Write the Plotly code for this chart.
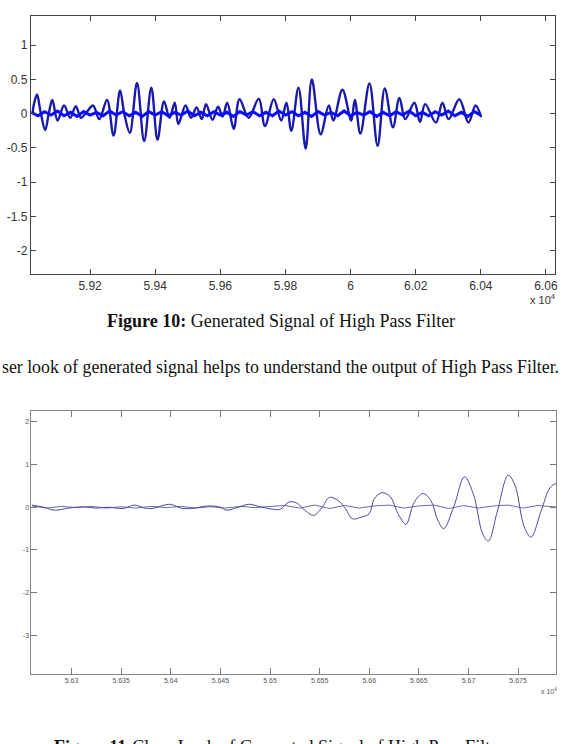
import plotly.graph_objects as go

W, H = 567, 744

# ---------------- Data: Figure 10 (top) ----------------
top_sig_x = [59023, 59028, 59037, 59047, 59062, 59073, 59084, 59100, 59120, 59139,
             59156, 59172, 59189, 59209, 59228, 59252, 59272, 59292, 59305, 59322,
             59344, 59366, 59388, 59407, 59427, 59444, 59460, 59471, 59493, 59510,
             59527, 59543, 59556, 59576, 59593, 59607, 59621, 59641, 59659, 59687,
             59718, 59737, 59764, 59787, 59803, 59818, 59840, 59862, 59881, 59908,
             59933, 59947, 59975, 60002, 60013, 60030, 60058, 60083, 60105, 60130,
             60150, 60168, 60196, 60213, 60229, 60262, 60282, 60301, 60334, 60362,
             60384, 60401]
top_sig_y = [0.0, 0.15, 0.28, 0.05, -0.24, 0.0, 0.2, -0.1, 0.12, -0.06,
             0.11, -0.06, 0.02, 0.12, -0.08, 0.2, -0.32, 0.34, 0.0, -0.28,
             0.45, -0.4, 0.38, -0.38, 0.18, -0.06, 0.16, -0.15, 0.12, -0.06,
             0.09, -0.08, 0.14, -0.09, 0.1, -0.04, 0.16, -0.22, 0.21, -0.06,
             0.22, -0.18, 0.21, -0.1, 0.16, -0.25, 0.38, -0.51, 0.5, -0.3,
             0.12, -0.1, 0.35, -0.1, 0.2, -0.29, 0.44, -0.47, 0.37, -0.2,
             0.23, -0.08, 0.16, -0.12, 0.14, -0.13, 0.16, -0.08, 0.21, -0.13,
             0.12, -0.05]

top_flat_x = [59020, 59040, 59060, 59080, 59100, 59120, 59140, 59160, 59180, 59200,
              59220, 59240, 59260, 59280, 59300, 59320, 59340, 59360, 59380, 59400,
              59420, 59440, 59460, 59480, 59500, 59520, 59540, 59560, 59580, 59600,
              59620, 59640, 59660, 59680, 59700, 59720, 59740, 59760, 59780, 59800,
              59820, 59840, 59860, 59880, 59900, 59920, 59940, 59960, 59980, 60000,
              60020, 60040, 60060, 60080, 60100, 60120, 60140, 60160, 60180, 60200,
              60220, 60240, 60260, 60280, 60300, 60320, 60340, 60360, 60380, 60400]
top_flat_y = [0.02, -0.03, 0.03, -0.02, 0.04, -0.03, 0.02, -0.04, 0.03, -0.02,
              0.02, -0.03, 0.04, -0.02, 0.03, -0.03, 0.02, -0.04, 0.03, -0.02,
              0.03, -0.03, 0.02, -0.02, 0.04, -0.03, 0.02, -0.03, 0.03, -0.02,
              0.02, -0.04, 0.03, -0.02, 0.03, -0.03, 0.02, -0.03, 0.04, -0.02,
              0.03, -0.03, 0.02, -0.04, 0.03, -0.02, 0.02, -0.03, 0.04, -0.03,
              0.02, -0.02, 0.03, -0.04, 0.02, -0.03, 0.03, -0.02, 0.04, -0.03,
              0.02, -0.03, 0.03, -0.02, 0.04, -0.03, 0.02, -0.04, 0.03, -0.02]

top_xticks = [59200, 59400, 59600, 59800, 60000, 60200, 60400, 60600]
top_xlabels = ["5.92", "5.94", "5.96", "5.98", "6", "6.02", "6.04", "6.06"]
top_yticks = [-2, -1.5, -1, -0.5, 0, 0.5, 1]
top_ylabels = ["-2", "-1.5", "-1", "-0.5", "0", "0.5", "1"]

# ---------------- Data: Figure 11 (bottom) ----------------
bot_sig_x = [56260, 56272, 56283, 56297, 56312, 56324, 56337, 56352, 56363, 56374,
             56381, 56399, 56410, 56421, 56437, 56450, 56456, 56468, 56479, 56490,
             56501, 56510, 56519, 56527, 56534, 56544, 56552, 56560, 56569, 56576,
             56583, 56592, 56600, 56605, 56613, 56621, 56629, 56637, 56645, 56654,
             56662, 56669, 56675, 56685, 56696, 56705, 56714, 56720, 56729, 56740,
             56747, 56756, 56763, 56773, 56782, 56788, 56791]
bot_sig_y = [0.05, 0.0, -0.07, -0.02, 0.01, -0.02, 0.0, -0.03, 0.05, -0.02,
             -0.03, 0.07, -0.02, -0.03, 0.03, 0.0, -0.07, 0.0, 0.07, 0.01,
             -0.04, -0.05, 0.12, 0.1, -0.05, -0.19, -0.02, 0.23, 0.15, -0.03,
             -0.27, -0.23, -0.15, 0.2, 0.34, 0.25, -0.15, -0.4, 0.1, 0.32,
             0.16, -0.3, -0.5, 0.0, 0.71, 0.3, -0.6, -0.79, -0.1, 0.75,
             0.5, -0.45, -0.7, -0.1, 0.45, 0.55, 0.52]

bot_flat_x = [56260, 56275, 56290, 56305, 56320, 56335, 56350, 56365, 56380, 56395,
              56410, 56425, 56440, 56455, 56470, 56485, 56500, 56515, 56530, 56545,
              56560, 56575, 56590, 56605, 56620, 56635, 56650, 56665, 56680, 56695,
              56710, 56725, 56740, 56755, 56770, 56785, 56791]
bot_flat_y = [0.03, -0.02, 0.02, -0.01, 0.02, -0.02, 0.01, -0.02, 0.02, -0.01,
              0.02, -0.02, 0.01, -0.02, 0.02, -0.01, 0.02, 0.04, -0.02, 0.05,
              -0.03, 0.04, -0.02, 0.03, 0.05, -0.02, 0.03, 0.05, -0.03, 0.04,
              -0.02, 0.03, 0.05, -0.02, 0.04, 0.01, 0.0]

bot_xticks = [56300, 56350, 56400, 56450, 56500, 56550, 56600, 56650, 56700, 56750]
bot_xlabels = ["5.63", "5.635", "5.64", "5.645", "5.65", "5.655", "5.66", "5.665", "5.67", "5.675"]
bot_yticks = [-3, -2, -1, 0, 1, 2]
bot_ylabels = ["-3", "-2", "-1", "0", "1", "2"]


def px(x):
    return x / W


def py(y):
    return 1 - y / H


fig = go.Figure()

# top traces
fig.add_trace(go.Scatter(x=top_sig_x, y=top_sig_y, mode="lines", line_shape="spline",
                         line=dict(color="#1818d8", width=2.4), xaxis="x", yaxis="y",
                         showlegend=False, hoverinfo="skip"))
fig.add_trace(go.Scatter(x=top_sig_x, y=top_sig_y, mode="lines", line_shape="spline",
                         line=dict(color="#20206a", width=0.9), xaxis="x", yaxis="y",
                         showlegend=False, hoverinfo="skip"))
fig.add_trace(go.Scatter(x=top_flat_x, y=top_flat_y, mode="lines",
                         line=dict(color="#0a0aff", width=3), xaxis="x", yaxis="y",
                         showlegend=False, hoverinfo="skip"))

# bottom traces
fig.add_trace(go.Scatter(x=bot_flat_x, y=bot_flat_y, mode="lines",
                         line=dict(color="#5a5aa8", width=0.9), xaxis="x2", yaxis="y2",
                         showlegend=False, hoverinfo="skip"))
fig.add_trace(go.Scatter(x=bot_sig_x, y=bot_sig_y, mode="lines", line_shape="spline",
                         line=dict(color="#4a4a9a", width=1.0), xaxis="x2", yaxis="y2",
                         showlegend=False, hoverinfo="skip"))

top_font = dict(family="Liberation Sans, Arial, sans-serif", size=12, color="#333333")
bot_font = dict(family="Liberation Sans, Arial, sans-serif", size=7, color="#555555")

fig.update_layout(
    width=W, height=H,
    margin=dict(l=0, r=0, t=0, b=0),
    paper_bgcolor="white", plot_bgcolor="white",
    xaxis=dict(domain=[px(31), px(557.7)], anchor="y", range=[59018, 60627],
               tickmode="array", tickvals=top_xticks, ticktext=top_xlabels,
               ticks="inside", ticklen=5, tickcolor="#444", showline=True, mirror="ticks",
               linecolor="#444", linewidth=1.2, showgrid=False, zeroline=False,
               tickfont=top_font, fixedrange=True),
    yaxis=dict(domain=[py(274), py(15.7)], anchor="x", range=[-2.34, 1.43],
               tickmode="array", tickvals=top_yticks, ticktext=top_ylabels,
               ticks="inside", ticklen=5, tickcolor="#444", showline=True, mirror="ticks",
               linecolor="#444", linewidth=1.2, showgrid=False, zeroline=False,
               tickfont=top_font, fixedrange=True),
    xaxis2=dict(domain=[px(31.6), px(559)], anchor="y2", range=[56259.6, 56788.2],
                tickmode="array", tickvals=bot_xticks, ticktext=bot_xlabels,
                ticks="inside", ticklen=6, tickcolor="#777", showline=True, mirror="ticks",
                linecolor="#888", linewidth=1, showgrid=False, zeroline=False,
                tickfont=bot_font, fixedrange=True),
    yaxis2=dict(domain=[py(674), py(411)], anchor="x2", range=[-3.9, 2.25],
                tickmode="array", tickvals=bot_yticks, ticktext=bot_ylabels,
                ticks="inside", ticklen=6, tickcolor="#777", showline=True, mirror="ticks",
                linecolor="#888", linewidth=1, showgrid=False, zeroline=False,
                tickfont=bot_font, fixedrange=True),
)

serif = "Liberation Serif, Times New Roman, serif"
anns = [
    dict(x=px(561), y=py(299), xanchor="right", yanchor="middle",
         text="x 10<sup>4</sup>", font=dict(family="Liberation Sans, Arial, sans-serif", size=11, color="#333")),
    dict(x=px(562), y=py(691), xanchor="right", yanchor="middle",
         text="x 10<sup>4</sup>", font=dict(family="Liberation Sans, Arial, sans-serif", size=7, color="#555")),
    dict(x=px(282), y=py(320.7), xanchor="center", yanchor="middle",
         text="<b>Figure 10:</b> Generated Signal of High Pass Filter",
         font=dict(family=serif, size=18, color="#111")),
    dict(x=px(564), y=py(366.7), xanchor="right", yanchor="middle",
         text="ser look of generated signal helps to understand the output of High Pass Filter.",
         font=dict(family=serif, size=17.8, color="#111")),
    dict(x=px(52), y=py(735), xanchor="left", yanchor="top",
         text="<b>Figure 11:</b>Close Look of Generated Signal of High Pass Filter",
         font=dict(family=serif, size=18, color="#111")),
]
for a in anns:
    a.update(xref="paper", yref="paper", showarrow=False)
fig.update_layout(annotations=anns)

fig.write_html("out.html", config={"displayModeBar": False})
